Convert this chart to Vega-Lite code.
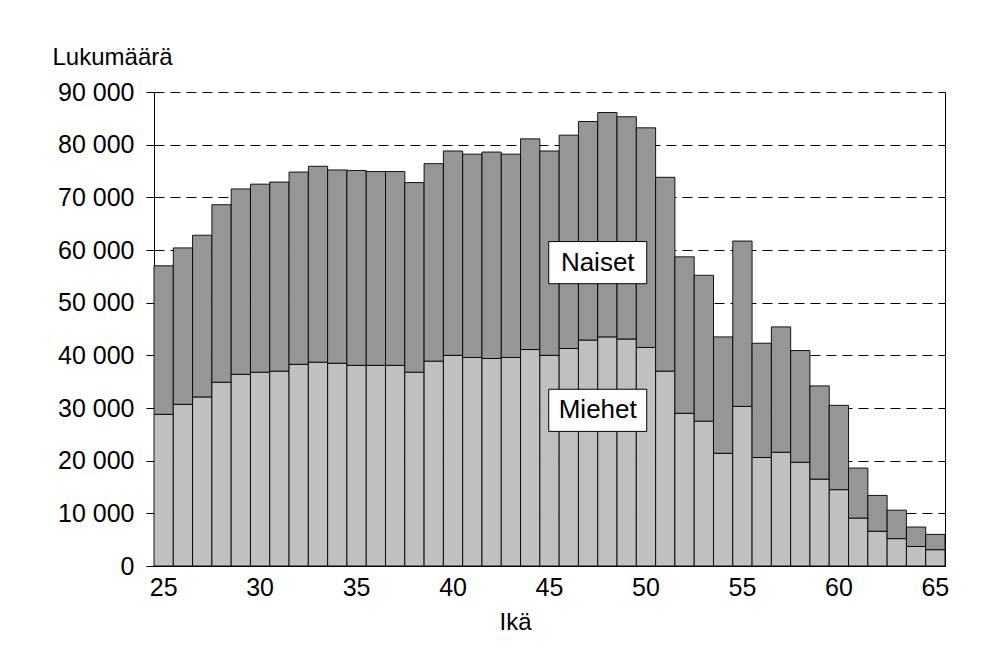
{
  "$schema": "https://vega.github.io/schema/vega-lite/v6.json",
  "autosize": {"type": "none"},
  "padding": {"left": 154, "top": 92, "right": 48, "bottom": 82},
  "width": 791,
  "height": 474,
  "background": "white",
  "config": {
    "font": "Liberation Sans",
    "view": {"stroke": null},
    "axis": {"labelFont": "Liberation Sans", "titleFont": "Liberation Sans", "labelColor": "black", "titleColor": "black", "domainColor": "black", "tickColor": "black", "titleFontWeight": "normal"}
  },
  "datasets": {
    "pop": [
      {"age": 25, "sex": "Miehet", "value": 28800}, {"age": 25, "sex": "Naiset", "value": 28200},
      {"age": 26, "sex": "Miehet", "value": 30700}, {"age": 26, "sex": "Naiset", "value": 29700},
      {"age": 27, "sex": "Miehet", "value": 32100}, {"age": 27, "sex": "Naiset", "value": 30700},
      {"age": 28, "sex": "Miehet", "value": 34900}, {"age": 28, "sex": "Naiset", "value": 33700},
      {"age": 29, "sex": "Miehet", "value": 36400}, {"age": 29, "sex": "Naiset", "value": 35200},
      {"age": 30, "sex": "Miehet", "value": 36800}, {"age": 30, "sex": "Naiset", "value": 35700},
      {"age": 31, "sex": "Miehet", "value": 37000}, {"age": 31, "sex": "Naiset", "value": 35900},
      {"age": 32, "sex": "Miehet", "value": 38300}, {"age": 32, "sex": "Naiset", "value": 36500},
      {"age": 33, "sex": "Miehet", "value": 38700}, {"age": 33, "sex": "Naiset", "value": 37200},
      {"age": 34, "sex": "Miehet", "value": 38500}, {"age": 34, "sex": "Naiset", "value": 36700},
      {"age": 35, "sex": "Miehet", "value": 38100}, {"age": 35, "sex": "Naiset", "value": 37000},
      {"age": 36, "sex": "Miehet", "value": 38100}, {"age": 36, "sex": "Naiset", "value": 36800},
      {"age": 37, "sex": "Miehet", "value": 38100}, {"age": 37, "sex": "Naiset", "value": 36800},
      {"age": 38, "sex": "Miehet", "value": 36800}, {"age": 38, "sex": "Naiset", "value": 36000},
      {"age": 39, "sex": "Miehet", "value": 38900}, {"age": 39, "sex": "Naiset", "value": 37500},
      {"age": 40, "sex": "Miehet", "value": 40000}, {"age": 40, "sex": "Naiset", "value": 38800},
      {"age": 41, "sex": "Miehet", "value": 39600}, {"age": 41, "sex": "Naiset", "value": 38600},
      {"age": 42, "sex": "Miehet", "value": 39400}, {"age": 42, "sex": "Naiset", "value": 39200},
      {"age": 43, "sex": "Miehet", "value": 39600}, {"age": 43, "sex": "Naiset", "value": 38600},
      {"age": 44, "sex": "Miehet", "value": 41100}, {"age": 44, "sex": "Naiset", "value": 40000},
      {"age": 45, "sex": "Miehet", "value": 40000}, {"age": 45, "sex": "Naiset", "value": 38800},
      {"age": 46, "sex": "Miehet", "value": 41300}, {"age": 46, "sex": "Naiset", "value": 40500},
      {"age": 47, "sex": "Miehet", "value": 42900}, {"age": 47, "sex": "Naiset", "value": 41500},
      {"age": 48, "sex": "Miehet", "value": 43500}, {"age": 48, "sex": "Naiset", "value": 42600},
      {"age": 49, "sex": "Miehet", "value": 43100}, {"age": 49, "sex": "Naiset", "value": 42200},
      {"age": 50, "sex": "Miehet", "value": 41500}, {"age": 50, "sex": "Naiset", "value": 41700},
      {"age": 51, "sex": "Miehet", "value": 37000}, {"age": 51, "sex": "Naiset", "value": 36800},
      {"age": 52, "sex": "Miehet", "value": 29000}, {"age": 52, "sex": "Naiset", "value": 29700},
      {"age": 53, "sex": "Miehet", "value": 27500}, {"age": 53, "sex": "Naiset", "value": 27700},
      {"age": 54, "sex": "Miehet", "value": 21400}, {"age": 54, "sex": "Naiset", "value": 22100},
      {"age": 55, "sex": "Miehet", "value": 30300}, {"age": 55, "sex": "Naiset", "value": 31400},
      {"age": 56, "sex": "Miehet", "value": 20600}, {"age": 56, "sex": "Naiset", "value": 21700},
      {"age": 57, "sex": "Miehet", "value": 21600}, {"age": 57, "sex": "Naiset", "value": 23800},
      {"age": 58, "sex": "Miehet", "value": 19700}, {"age": 58, "sex": "Naiset", "value": 21200},
      {"age": 59, "sex": "Miehet", "value": 16500}, {"age": 59, "sex": "Naiset", "value": 17700},
      {"age": 60, "sex": "Miehet", "value": 14500}, {"age": 60, "sex": "Naiset", "value": 16000},
      {"age": 61, "sex": "Miehet", "value": 9100}, {"age": 61, "sex": "Naiset", "value": 9500},
      {"age": 62, "sex": "Miehet", "value": 6600}, {"age": 62, "sex": "Naiset", "value": 6800},
      {"age": 63, "sex": "Miehet", "value": 5200}, {"age": 63, "sex": "Naiset", "value": 5400},
      {"age": 64, "sex": "Miehet", "value": 3700}, {"age": 64, "sex": "Naiset", "value": 3700},
      {"age": 65, "sex": "Miehet", "value": 3100}, {"age": 65, "sex": "Naiset", "value": 2900}
    ],
    "labels": [
      {"age": 48, "value": 57600, "label": "Naiset"},
      {"age": 48, "value": 29560, "label": "Miehet"}
    ]
  },
  "resolve": {"axis": {"y": "independent"}},
  "layer": [
    {
      "data": {"name": "pop"},
      "mark": {"type": "bar", "stroke": "black", "strokeWidth": 1, "strokeOpacity": 0.9},
      "encoding": {
        "x": {
          "field": "age", "type": "ordinal",
          "scale": {"paddingInner": 0, "paddingOuter": 0},
          "axis": {"values": [25, 30, 35, 40, 45, 50, 55, 60, 65], "labelAngle": 0, "ticks": false, "tickSize": 0, "labelPadding": 9, "labelFontSize": 25, "title": "Ikä", "titleFontSize": 24, "titleX": 361, "titleY": 63, "titleAlign": "center", "titleBaseline": "alphabetic", "domainWidth": 1}
        },
        "y": {
          "field": "value", "type": "quantitative", "stack": "zero",
          "scale": {"domain": [0, 90000], "nice": false},
          "axis": {"values": [0, 10000, 20000, 30000, 40000, 50000, 60000, 70000, 80000, 90000], "labelExpr": "replace(format(datum.value, ',d'), ',', ' ')", "labelFontSize": 25, "tickSize": 8, "labelPadding": 12, "grid": true, "gridColor": "black", "gridDash": [10, 6], "gridWidth": 1, "title": "Lukumäärä", "titleFontSize": 24, "titleAngle": 0, "titleAlign": "left", "titleBaseline": "alphabetic", "titleX": -102, "titleY": -28}
        },
        "color": {"field": "sex", "type": "nominal", "scale": {"domain": ["Miehet", "Naiset"], "range": ["#c0c0c0", "#969696"]}, "legend": null},
        "order": {"field": "sex", "sort": "ascending"}
      }
    },
    {
      "data": {"name": "labels"},
      "mark": {"type": "point", "shape": "M-1,-0.43H1V0.43H-1Z", "size": 9604, "filled": true, "fill": "white", "stroke": "black", "strokeWidth": 1, "opacity": 1},
      "encoding": {
        "x": {"field": "age", "type": "ordinal", "bandPosition": 0},
        "y": {"field": "value", "type": "quantitative", "stack": null, "axis": {"orient": "right", "labels": false, "ticks": false, "grid": false, "title": null, "domain": true, "domainColor": "black"}}
      }
    },
    {
      "data": {"name": "labels"},
      "mark": {"type": "text", "fontSize": 26, "color": "black", "align": "center", "baseline": "middle", "font": "Liberation Sans"},
      "encoding": {
        "x": {"field": "age", "type": "ordinal", "bandPosition": 0},
        "y": {"field": "value", "type": "quantitative", "stack": null, "axis": null},
        "text": {"field": "label"}
      }
    }
  ]
}
